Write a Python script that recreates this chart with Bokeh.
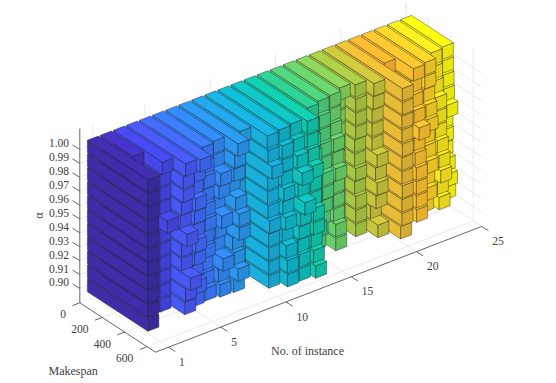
from bokeh.plotting import figure
from bokeh.embed import file_html
from bokeh.resources import INLINE
from bokeh.models import ColumnDataSource, Range1d
from bokeh.core.properties import value
import math

alpha_levels = [0.90,0.91,0.92,0.93,0.94,0.95,0.96,0.97,0.98,0.99,1.00]
instances = list(range(1,26))
makespan = [
 [540]*11,
 [300]*10+[290],
 [415,415,415,415,415,415,480,415,415,415,436],
 [520,527,570,490,490,540,480,490,507,507,527],
 [480,500,470,490,500,480,490,500,470,490,540],
 [470,450,440,460,450,470,460,450,460,450,443],
 [485,470,512,431,446,500,431,476,491,425,425],
 [490,530,494,480,540,540,510,450,494,500,529],
 [380,380,380,380,380,380,380,380,380,380,430],
 [570,570,570,570,580,565,560,560,600,565,558],
 [621,620,610,575,605,580,590,570,575,575,546],
 [611,610,600,610,620,660,600,637,592,560,533],
 [640,620,600,620,620,595,595,610,575,565,565],
 [450,470,524,480,480,480,480,480,470,460,450],
 [400,420,440,460,470,470,450,450,440,440,428],
 [470,470,450,450,450,470,445,450,425,417,417],
 [340,340,340,340,340,340,340,340,340,340,385],
 [415,415,415,405,415,405,405,415,415,415,410],
 [497,430,480,490,475,490,445,445,445,455,461],
 [583,595,595,598,595,595,598,595,595,598,598],
 [400,400,400,400,400,400,400,400,400,400,320],
 [493,490,490,490,480,470,515,470,450,440,464],
 [430,460,440,470,450,440,470,460,440,450,450],
 [460,445,475,460,445,430,430,430,400,393,387],
 [395,410,390,370,375,370,413,383,380,375,373],
]
tick_x = [1,5,10,15,20,25]
tick_y = [0,200,400,600]
tick_z = alpha_levels
col_hex = ["#3e2ca8","#4232c4","#4547e8","#4758f5","#4168fb","#3a79fc","#3388f5","#2b96ee","#23a2e6","#18afdc","#10b8cf","#0fc1bf","#12c8ac","#2bcb90","#4fce7a","#68d06a","#88d058","#a8c844","#c8c43c","#e8bc36","#ffb530","#fbc02f","#fbd028","#fbe71f","#fcfc10"]

ox,oy=79.3,302.3; ux,uy=13.05,-5.03; vx,vy=0.1121,0.0732; wz=1390; z0=0.8897
xmax,ymax,zmax=25,675,1.015
hw,hh=0.42,0.0045
def P(x,y,z):
    return ox+ux*x+vx*y, oy+uy*x+vy*y-wz*(z-z0)
def shade(h,f):
    r,g,b=[int(h[i:i+2],16) for i in (1,3,5)]
    return "#%02x%02x%02x"%tuple(min(255,int(c*f)) for c in (r,g,b))

p=figure(width=556,height=383,x_range=Range1d(0,556),y_range=Range1d(383,0),toolbar_location=None,output_backend="svg",min_border=0)
p.axis.visible=False; p.grid.visible=False; p.outline_line_color=None
def seg(a,b,color,w):
    p.line([a[0],b[0]],[a[1],b[1]],line_color=color,line_width=w)
gridc="#ebebeb"
for x in tick_x:
    seg(P(x,0,z0),P(x,ymax,z0),gridc,1); seg(P(x,0,z0),P(x,0,zmax),gridc,1)
for y in tick_y:
    seg(P(0,y,z0),P(xmax,y,z0),gridc,1); seg(P(xmax,y,z0),P(xmax,y,zmax),gridc,1)
for z in tick_z:
    seg(P(0,0,z),P(xmax,0,z),gridc,1); seg(P(xmax,0,z),P(xmax,ymax,z),gridc,1)
ac="#666666"
seg(P(0,0,z0),P(0,0,zmax),ac,1); seg(P(0,0,z0),P(0,ymax,z0),ac,1); seg(P(0,ymax,z0),P(xmax,ymax,z0),ac,1)
for x in tick_x:
    a=P(x,ymax,z0); seg(a,(a[0]+6.7,a[1]+4.3),ac,1)
for y in tick_y:
    a=P(0,y,z0); seg(a,(a[0]-7.3,a[1]+2.8),ac,1)
for z in tick_z:
    a=P(0,0,z); seg(a,(a[0]-7.3,a[1]-4.5),ac,1)

xs,ys,fc=[],[],[]
for c in range(25,0,-1):
    for r in range(11):
        x0,x1=c-hw,c+hw; v=makespan[c-1][r]; z1,z2=alpha_levels[r]-hh,alpha_levels[r]+hh
        col=col_hex[c-1]
        faces=[([(x0,0,z1),(x0,v,z1),(x0,v,z2),(x0,0,z2)],1.0),
               ([(x0,v,z1),(x1,v,z1),(x1,v,z2),(x0,v,z2)],0.92),
               ([(x0,0,z2),(x0,v,z2),(x1,v,z2),(x1,0,z2)],1.05)]
        for pts,f in faces:
            q=[P(*t) for t in pts]
            xs.append([a[0] for a in q]); ys.append([a[1] for a in q]); fc.append(shade(col,f))
p.patches("xs","ys",source=ColumnDataSource(dict(xs=xs,ys=ys,fc=fc)),fill_color="fc",line_color="#222222",line_width=0.6,line_alpha=0.7)

tc="#404040"
def T(sx,sy,s,size="12px",angle=0,align="center"):
    p.text([sx],[sy],text=[s],text_font=value("Liberation Serif"),text_font_size=size,text_color=tc,text_align=align,text_baseline="middle",angle=angle)
for z in tick_z:
    a=P(0,0,z); T(a[0]-20.8,a[1]-6,"%.2f"%z,size="11.5px")
for y in tick_y:
    a=P(0,y,z0); T(a[0]-13.7,a[1]+11.5,str(y),size="11.5px",align="right")
for x in tick_x:
    a=P(x,ymax,z0); T(a[0]+10.6,a[1]+14.6,str(x),size="11.5px",align="left")
T(72.7,370,"Makespan")
T(307,350,"No. of instance")
T(38,215,"α",angle=math.pi/2)
open("out.html","w").write(file_html(p,INLINE))
